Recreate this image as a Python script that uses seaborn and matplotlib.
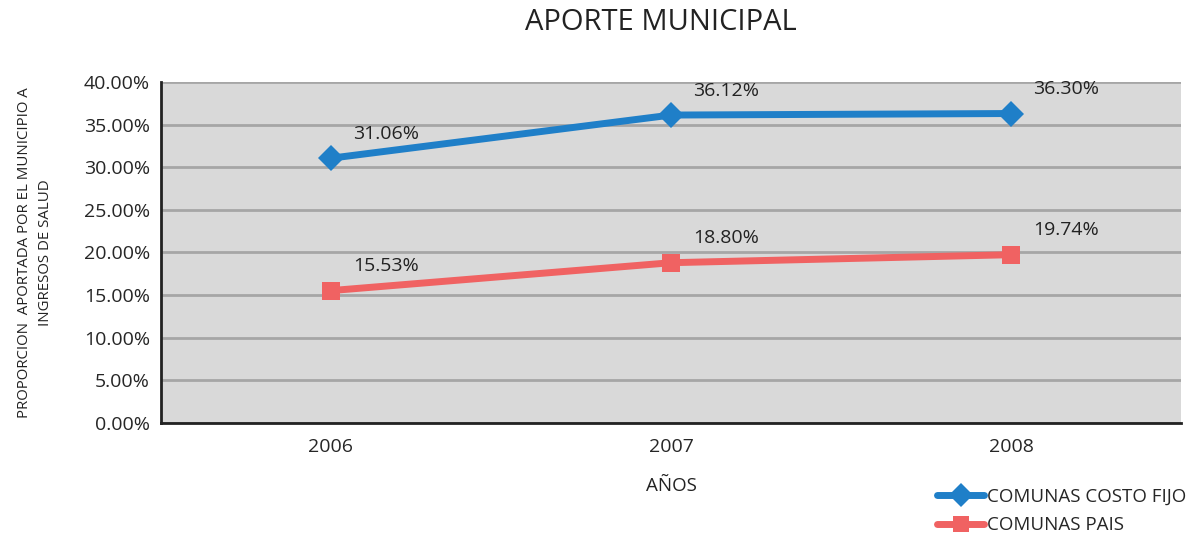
import matplotlib
matplotlib.use('Agg')
import matplotlib.pyplot as plt
import pandas as pd
import seaborn as sns
from matplotlib.ticker import PercentFormatter

# Data
years = ['2006', '2007', '2008']
costo_fijo = [31.06, 36.12, 36.30]
pais = [15.53, 18.80, 19.74]
series_names = ['COMUNAS COSTO FIJO', 'COMUNAS PAIS']

df = pd.DataFrame({
    'year': years * 2,
    'value': costo_fijo + pais,
    'serie': [series_names[0]] * 3 + [series_names[1]] * 3,
})
df['x'] = df['year'].map({y: i for i, y in enumerate(years)})

sns.set_style('white')
plt.rcParams['font.family'] = ['Open Sans', 'DejaVu Sans']

colors = {series_names[0]: '#1f7fc8', series_names[1]: '#f06262'}
markers = {series_names[0]: 'D', series_names[1]: 's'}

fig = plt.figure(figsize=(11.89, 5.33), dpi=100)
ax = fig.add_axes([0.1354, 0.2064, 0.8579, 0.6398])
ax.set_facecolor('#d9d9d9')

sns.lineplot(data=df, x='x', y='value', hue='serie', style='serie',
             palette=colors, markers=markers, dashes=False, linewidth=5,
             markersize=13, markeredgewidth=0, ax=ax, legend=False)

# data labels
for _, r in df.iterrows():
    ax.annotate(f"{r['value']:.2f}%", (r['x'], r['value']), xytext=(16, 14),
                textcoords='offset points', fontsize=14, color='#222222')

ax.set_xlim(-0.5, 2.5)
ax.set_ylim(0, 40)
ax.set_yticks(range(0, 41, 5))
ax.yaxis.set_major_formatter(PercentFormatter(decimals=2))
ax.set_xticks([0, 1, 2])
ax.set_xticklabels(years)
ax.set_xticks([-0.5, 0.5, 1.5, 2.5], minor=True)
ax.tick_params(axis='x', which='major', length=0, labelsize=14, pad=11)
ax.tick_params(axis='x', which='minor', length=5, width=1.5, color='#222222', direction='out')
ax.tick_params(axis='y', length=5, width=1.5, color='#222222', labelsize=14, pad=3)
ax.grid(axis='y', color='#a6a6a6', linewidth=2)
ax.set_axisbelow(True)

for s in ['top', 'right']:
    ax.spines[s].set_visible(False)
for s in ['left', 'bottom']:
    ax.spines[s].set_color('#222222')
    ax.spines[s].set_linewidth(2)

ax.set_xlabel('AÑOS', fontsize=13.5, color='#222222', labelpad=15)
ax.set_ylabel('PROPORCION  APORTADA POR EL MUNICIPIO A\nINGRESOS DE SALUD',
              fontsize=10.8, color='#222222', labelpad=22, linespacing=1.55)
fig.text(0.556, 0.958, 'APORTE MUNICIPAL', ha='center', va='center',
         fontsize=21, color='#222222')

handles = [plt.Line2D([], [], color=colors[n], marker=markers[n], linewidth=5,
                      markersize=12, markeredgewidth=0) for n in series_names]
fig.legend(handles, series_names, loc='lower right', bbox_to_anchor=(1.012, -0.034),
           frameon=False, fontsize=13.5, handlelength=2.5, handletextpad=0.15,
           labelspacing=0.55)

fig.savefig('out.png', dpi=100)
